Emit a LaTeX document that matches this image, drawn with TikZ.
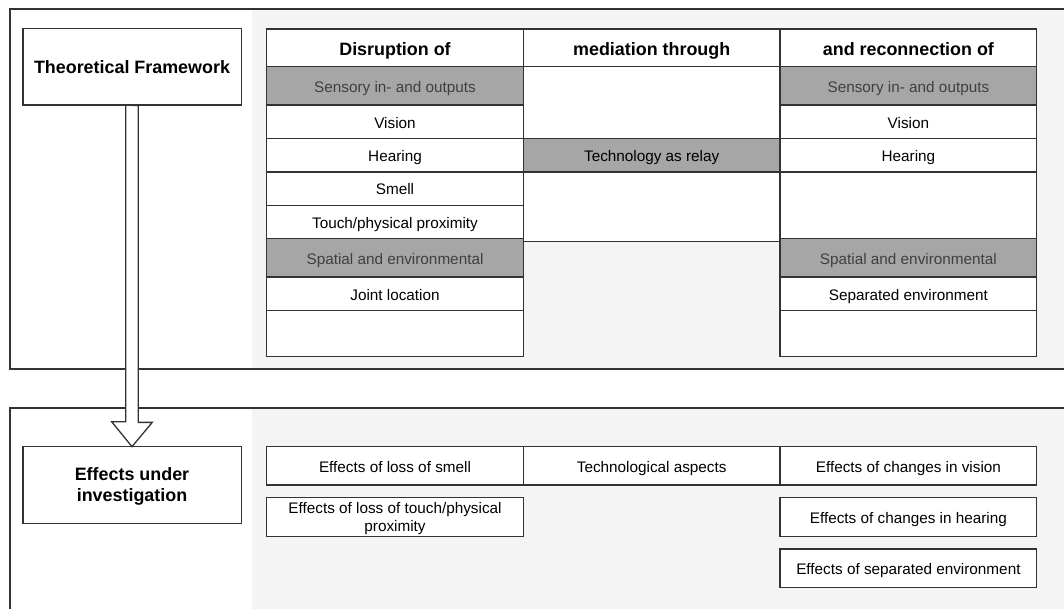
\documentclass[tikz,border=0pt]{standalone}
\usepackage{fontspec}
\setmainfont{Liberation Sans}
\usetikzlibrary{positioning}

\definecolor{panelgray}{HTML}{F4F4F4}
\definecolor{cellgray}{HTML}{A6A6A6}
\definecolor{linegray}{HTML}{333333}

\begin{document}
\begin{tikzpicture}[
            x = 1pt, y = -1pt, % one unit per pixel, y grows downwards
            line width = 1.3pt,
            every node/.style = {
                font = \fontsize{15.3}{18.3}\selectfont,
                align = center,
                inner sep = 0pt,
                outer sep = 0pt, % neighbouring cells share one border
                text height = 13.8pt,
                text depth = 1.2pt
            },
        ]

        \tikzstyle{frame}=[draw = linegray]
        \tikzstyle{cell}=[
            draw = linegray,
            fill = white,
            minimum width = 256.7pt,
            minimum height = 33.4pt
        ]
        \tikzstyle{bold}=[font = \bfseries\fontsize{17.9}{20.7}\selectfont,
            text height = 16.1pt, text depth = 1.5pt]
        \tikzstyle{hdr}=[cell, bold, minimum height = 37.7pt]
        \tikzstyle{sub}=[cell, fill = cellgray, text = black!75, minimum height = 38.4pt]
        \tikzstyle{lbl}=[
            draw = linegray,
            fill = white,
            minimum width = 218.3pt,
            minimum height = 76.7pt,
            bold
        ]
        \tikzstyle{effect}=[cell, minimum height = 38.4pt]
        \tikzstyle{hollow}=[draw = linegray, fill = white]

        \useasboundingbox (0,0) rectangle (1064,609);

        % two panels, grey on the right
        \fill[panelgray] (252,9) rectangle (1066,369);
        \fill[panelgray] (252,408) rectangle (1066,612);
        \draw[frame] (10,9) rectangle (1066,369);
        \draw[frame] (10,408) rectangle (1066,612);

        \node[lbl] (tf) at (132,66.7) {Theoretical Framework};
        % two lines: text height counts both of them
        \node[lbl, text height=34.1pt] (eui) at (132,485) {Effects under\\investigation};

        % hollow arrow between the two labels
        \draw[hollow] (tf.south) ++(-6.3,0) -- ++(0,316.7) -- ++(-14,0)
            -- (eui.north) -- ++(20.3,-24.3) -- ++(-14,0) -- ++(0,-316.7) -- cycle;

        % disruption column
        \node[hdr, anchor=north] (d0) at (395,29) {Disruption of};
        \node[sub, below=0pt of d0] (d1) {Sensory in- and outputs};
        \node[cell, below=0pt of d1] (d2) {Vision};
        \node[cell, below=0pt of d2] (d3) {Hearing};
        \node[cell, below=0pt of d3] (d4) {Smell};
        \node[cell, below=0pt of d4] (d5) {Touch/physical proximity};
        \node[sub, below=0pt of d5] (d6) {Spatial and environmental};
        \node[cell, below=0pt of d6] (d7) {Joint location};
        \node[cell, below=0pt of d7, minimum height=46.2pt] (d8) {};

        % mediation column
        \node[hdr, right=0pt of d0] (m0) {mediation through};
        \node[cell, below=0pt of m0, minimum height=72pt] (m1) {};
        \node[cell, fill=cellgray, below=0pt of m1] (m2) {Technology as relay};
        \node[cell, below=0pt of m2, minimum height=69.3pt] (m3) {};

        % reconnection column
        \node[hdr, right=0pt of m0] (r0) {and reconnection of};
        \node[sub, below=0pt of r0] (r1) {Sensory in- and outputs};
        \node[cell, below=0pt of r1] (r2) {Vision};
        \node[cell, below=0pt of r2] (r3) {Hearing};
        \node[cell, below=0pt of r3, minimum height=66.8pt] (r4) {};
        \node[sub, below=0pt of r4] (r5) {Spatial and environmental};
        \node[cell, below=0pt of r5] (r6) {Separated environment};
        \node[cell, below=0pt of r6, minimum height=46.2pt] (r7) {};

        % effects
        \node[effect] (e1) at (395,465.9) {Effects of loss of smell};
        \node[effect, right=0pt of e1] (e2) {Technological aspects};
        \node[effect, right=0pt of e2] (e3) {Effects of changes in vision};
        \node[effect, below=12.7pt of e1, minimum height=39pt, text height=29.4pt] (e4)
            {Effects of loss of touch/physical\\proximity};
        \node[effect, below=12.7pt of e3, minimum height=39pt] (e5) {Effects of changes in hearing};
        \node[effect, below=12.3pt of e5] (e6) {Effects of separated environment};
    \end{tikzpicture}
\end{document}
